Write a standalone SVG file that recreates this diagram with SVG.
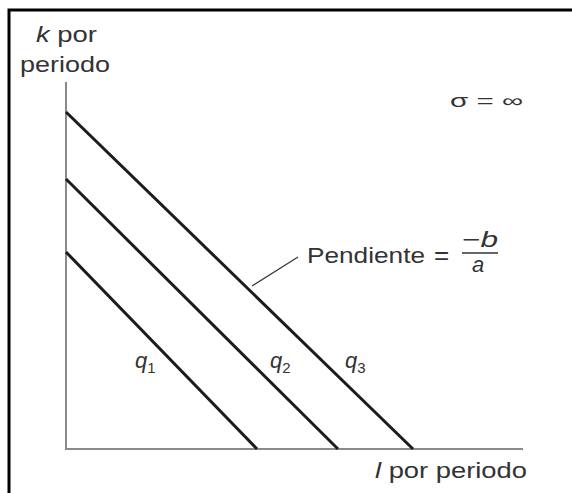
<svg xmlns="http://www.w3.org/2000/svg" width="572" height="493" viewBox="0 0 572 493">
<style>
text{font-family:"Liberation Sans",Arial,sans-serif;fill:#333;}
.lab{font-size:22px;}
.it{font-style:italic;}
.axis{stroke:#8a8a8a;stroke-width:2;fill:none;}
.iso{stroke:#1c1c1c;stroke-width:3;fill:none;}
.lead{stroke:#333;stroke-width:1.2;fill:none;}
</style>
<rect x="0" y="0" width="572" height="493" fill="#fff"/>
<g id="frame"><path d="M9 493 V10 H572" fill="none" stroke="#000" stroke-width="3"/></g>
<g id="axes">
<path class="axis" d="M66 82 V449 H523"/>
</g>
<g id="connectors">
<path class="iso" d="M66 252 L257 449"/>
<path class="iso" d="M66 179 L338 449"/>
<path class="iso" d="M66 112 L413 449"/>
<path class="lead" d="M298 257 L252 286"/>
</g>
<g id="ylabel">
<text class="lab" x="36" y="42" textLength="61" lengthAdjust="spacingAndGlyphs"><tspan class="it">k</tspan> por</text>
<text class="lab" x="20" y="72" textLength="90" lengthAdjust="spacingAndGlyphs">periodo</text>
</g>
<g id="xlabel">
<text class="lab" x="375" y="478" textLength="152" lengthAdjust="spacingAndGlyphs"><tspan class="it">l</tspan> por periodo</text>
</g>
<g id="sigma">
<text x="450" y="107" font-size="18" textLength="73" lengthAdjust="spacingAndGlyphs">σ = ∞</text>
</g>
<g id="slope">
<text class="lab" x="307" y="263" textLength="118" lengthAdjust="spacingAndGlyphs">Pendiente</text>
<text x="434" y="264" font-size="26">=</text>
<text class="lab" x="462" y="247" textLength="36" lengthAdjust="spacingAndGlyphs"><tspan>−</tspan><tspan class="it">b</tspan></text>
<path d="M462 253 H498" stroke="#333" stroke-width="1.5"/>
<text class="lab it" x="472" y="272">a</text>
</g>
<g id="q1"><text class="lab it" x="135" y="368">q<tspan font-size="15" dy="5" font-style="normal">1</tspan></text></g>
<g id="q2"><text class="lab it" x="270" y="368">q<tspan font-size="15" dy="5" font-style="normal">2</tspan></text></g>
<g id="q3"><text class="lab it" x="345" y="368">q<tspan font-size="15" dy="5" font-style="normal">3</tspan></text></g>
</svg>
